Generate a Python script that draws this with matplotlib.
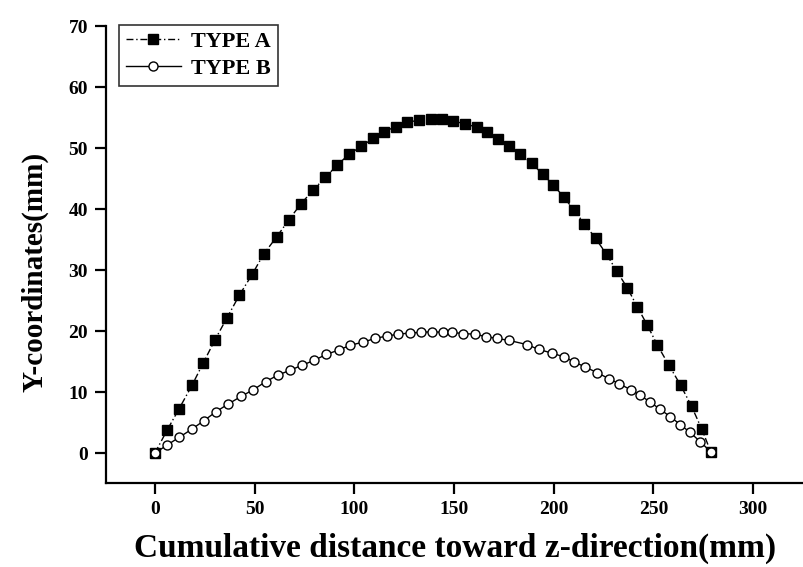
import matplotlib
matplotlib.use("Agg")
import matplotlib.pyplot as plt

plt.rcParams['font.family'] = ['Liberation Serif', 'DejaVu Serif']
plt.rcParams['font.weight'] = 'bold'

# TYPE A (filled squares)
type_a_x = [0, 6.2, 12.2, 18.6, 24.3, 30.2, 36.2, 42.4, 48.8, 54.5, 61.2, 67.1, 73.1,
            79.3, 85.5, 91.4, 97.4, 103.6, 109.5, 115.0, 120.7, 126.4, 132.5, 138.4,
            144.1, 149.7, 155.6, 161.5, 166.8, 172.3, 177.4, 183.2, 189.1, 194.5,
            199.7, 205.0, 210.0, 215.4, 221.0, 226.5, 231.5, 236.9, 241.9, 246.9,
            252.0, 257.8, 263.7, 269.1, 274.3, 278.8]
type_a_y = [0, 3.8, 7.3, 11.1, 14.8, 18.6, 22.2, 25.9, 29.3, 32.6, 35.5, 38.2, 40.8,
            43.1, 45.2, 47.2, 49.0, 50.3, 51.6, 52.7, 53.5, 54.2, 54.6, 54.7,
            54.7, 54.4, 54.0, 53.4, 52.6, 51.5, 50.4, 49.0, 47.5, 45.7,
            44.0, 42.0, 39.9, 37.6, 35.2, 32.6, 29.9, 27.1, 24.0, 21.0,
            17.7, 14.4, 11.1, 7.7, 3.9, 0.2]

# TYPE B (open circles)
type_b_x = [0, 6.0, 12.2, 18.4, 24.5, 30.7, 36.5, 43.2, 49.4, 55.5, 61.7, 67.9, 73.7,
            79.8, 86.0, 92.2, 98.1, 104.4, 110.3, 116.2, 122.0, 127.9, 133.5, 139.1,
            144.7, 148.9, 154.7, 160.6, 166.1, 171.5, 177.4, 186.6, 192.5, 199.2,
            205.0, 210.0, 215.9, 221.8, 227.7, 232.7, 238.6, 243.3, 248.3, 253.3,
            258.4, 263.4, 268.4, 273.4, 278.8]
type_b_y = [0, 1.3, 2.6, 3.9, 5.3, 6.8, 8.0, 9.3, 10.4, 11.7, 12.8, 13.6, 14.4,
            15.2, 16.2, 16.9, 17.7, 18.2, 18.8, 19.2, 19.5, 19.7, 19.8, 19.9,
            19.8, 19.8, 19.6, 19.5, 19.1, 18.8, 18.5, 17.8, 17.0, 16.4,
            15.8, 15.0, 14.1, 13.2, 12.2, 11.4, 10.4, 9.5, 8.4, 7.2,
            6.0, 4.7, 3.4, 1.9, 0.2]

x_ticks = [0, 50, 100, 150, 200, 250, 300]
y_ticks = [0, 10, 20, 30, 40, 50, 60, 70]

fig = plt.figure(figsize=(8.04, 5.67), dpi=100)
ax = fig.add_axes([0.1318, 0.148, 0.8682, 0.806])

ax.plot(type_a_x, type_a_y, color='black', linestyle=(0, (5, 2, 1, 2)), linewidth=1.0,
        marker='s', markersize=6.5, markerfacecolor='black', markeredgecolor='black',
        label='TYPE A', zorder=2)
ax.plot(type_b_x, type_b_y, color='black', linestyle='-', linewidth=1.0,
        marker='o', markersize=6.5, markerfacecolor='white', markeredgecolor='black',
        markeredgewidth=1.0, label='TYPE B', zorder=3)

ax.set_xlim(-24.5, 325.5)
ax.set_ylim(-4.9, 70)
ax.set_xticks(x_ticks)
ax.set_yticks(y_ticks)

for s in ['top', 'right']:
    ax.spines[s].set_visible(False)
for s in ['left', 'bottom']:
    ax.spines[s].set_linewidth(1.6)

ax.tick_params(direction='out', length=8, width=1.6, labelsize=14, pad=5)
for lab in ax.get_xticklabels() + ax.get_yticklabels():
    lab.set_fontweight('bold')

ax.set_xlabel('Cumulative distance toward z-direction(mm)', fontsize=24,
              fontweight='bold')
ax.xaxis.set_label_coords(0.5, -0.108)
ax.set_ylabel('Y-coordinates(mm)', fontsize=21, fontweight='bold')
ax.yaxis.set_label_coords(-0.0817, 0.4628)

leg = ax.legend(loc='upper left', bbox_to_anchor=(0.0186, 1.003), frameon=True,
                fancybox=False, edgecolor='black', prop={'size': 16, 'weight': 'bold'},
                handlelength=2.5, borderpad=0.3, labelspacing=0.3, handletextpad=0.45,
                borderaxespad=0)
leg.get_frame().set_linewidth(1.2)

fig.savefig('out.png', dpi=100)
